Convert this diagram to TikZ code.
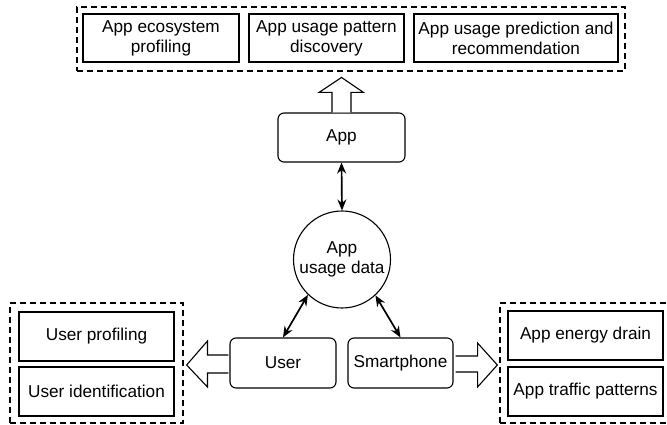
\documentclass[tikz,border=0pt]{standalone}
\usepackage{fontspec}
\setmainfont{Liberation Sans}
\usetikzlibrary{arrows.meta,calc}
\begin{document}
\begin{tikzpicture}[x=1pt,y=-1pt,
  every node/.style={font=\fontsize{17.2}{20}\selectfont, align=center, inner sep=0pt},
  box/.style={draw, line width=1.1pt, minimum height=49pt},
  rbox/.style={draw, line width=1.1pt, rounded corners=6pt, minimum height=49pt},
  group/.style={draw, line width=1.3pt, dash pattern=on 6pt off 4pt},
  hollow/.style={draw, line width=1.1pt, fill=white, line join=miter},
  link/.style={line width=1.7pt, {Stealth[length=11pt,width=9pt]}-{Stealth[length=11pt,width=9pt]}}]
\useasboundingbox (0,0) rectangle (667,425);

% top group
\node[box, minimum width=156pt, minimum height=48pt] (eco) at (161,38) {App ecosystem\\profiling};
\node[box, minimum width=155pt, minimum height=48pt] (pat) at (326.5,38) {App usage pattern\\discovery};
\node[box, minimum width=204pt, minimum height=48pt] (pred) at (516,38) {App usage prediction and\\recommendation};
\node[group, minimum width=548pt, minimum height=64pt] (topgrp) at (351,39) {};

% center
\node[rbox, minimum width=127pt] (app) at (341.5,137.5) {App};
\node[circle, draw, line width=1.1pt, minimum size=97pt] (data) at (342,259.5) {App\\usage data};
\node[rbox, minimum width=106pt, minimum height=50pt] (user) at (283,363) {User};
\node[rbox, minimum width=105pt, minimum height=50pt] (phone) at (400.5,363) {Smartphone};

% left group
\node[box, minimum width=155pt] (uprof) at (96.5,336.5) {User profiling};
\node[box, minimum width=155pt] (uid) at (96.5,391.5) {User identification};
\node[group, minimum width=173pt, minimum height=120pt] (leftgrp) at (96.5,363) {};

% right group
\node[box, minimum width=155pt] (energy) at (585.5,335.5) {App energy drain};
\node[box, minimum width=155pt] (traffic) at (585.5,391.5) {App traffic patterns};
\node[group, minimum width=168pt, minimum height=120pt] (rightgrp) at (584,363) {};

% links
\draw[link] (app.south) -- (data.north);
\draw[link] (user.north) -- (data.226);
\draw[link] (phone.north) -- (data.313);

% hollow arrows
\draw[hollow] ($(app.north)+(-9.5,0)$) -- ++(0,-20) -- ++(-13,0) -- ($(app.north)+(0,-35)$)
  -- ($(app.north)+(22,-20)$) -- ++(-12.5,0) -- ++(0,20);
\draw[hollow] ($(user.west)+(-1,-8)$) -- ++(-21,0) -- ++(0,-14) -- ($(leftgrp.east)+(3,2)$)
  -- ($(user.west)+(-22,24)$) -- ++(0,-14) -- ++(21,0);
\draw[hollow] ($(phone.east)+(2,-7)$) -- ++(22,0) -- ++(0,-13) -- ($(rightgrp.west)+(-2,2)$)
  -- ($(phone.east)+(24,24)$) -- ++(0,-15) -- ++(-22,0);
\end{tikzpicture}
\end{document}
